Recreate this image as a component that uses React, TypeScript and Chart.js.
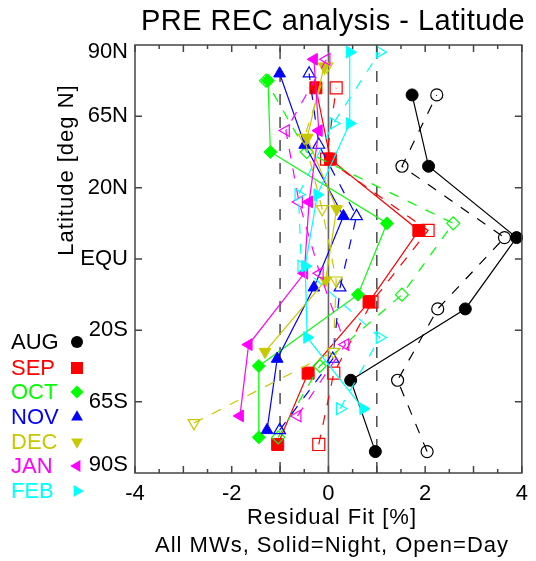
import React, { useEffect, useRef } from 'react';
import { Chart, registerables } from 'chart.js';

Chart.register(...registerables);

// ---------- data ----------
const MONTHS = ['AUG', 'SEP', 'OCT', 'NOV', 'DEC', 'JAN', 'FEB'];
const COLORS = ['#000000', '#ff0000', '#00ff00', '#0000ff', '#c8c800', '#ff00ff', '#00ffff'];

// latitude bins (south -> north), plotted positions on 0..6 axis
const LAT_BIN_POS = [0.3, 1.3, 2.3, 3.3, 4.3, 5.3];
const MONTH_SHIFT = [0, 0.1, 0.2, 0.3, 0.4, 0.5, 0.6];

const Y_TICK_LABELS = ['90S', '65S', '20S', 'EQU', '20N', '65N', '90N'];
const Y_TICK_POS = [0.11, 1, 2, 3, 4, 5, 5.9];
const Y_MAJOR = [1, 2, 3, 4, 5];

// residual fit [%] per latitude bin (90S -> 90N)
const AUG_NIGHT = [0.97, 0.46, 2.83, 3.89, 2.07, 1.73];
const AUG_DAY = [2.04, 1.43, 2.26, 3.64, 1.52, 2.24];
const SEP_NIGHT = [-1.05, -0.42, 0.84, 1.87, 0.04, -0.26];
const SEP_DAY = [-0.2, 0.11, 0.9, 2.06, -0.04, 0.16];
const OCT_NIGHT = [-1.44, -1.44, 0.61, 1.21, -1.2, -1.25];
const OCT_DAY = [-1.04, -0.18, 1.52, 2.58, -0.45, -1.29];
const NOV_NIGHT = [-1.27, -1.06, -0.3, 0.31, -0.49, -1.01];
const NOV_DAY = [-1.01, 0.09, 0.24, 0.58, -0.2, -0.4];
const DEC_NIGHT = [null, -1.31, -0.06, 0.17, -0.44, -0.09];
const DEC_DAY = [-2.78, 0.1, 0.16, -0.13, -0.5, -0.03];
const JAN_NIGHT = [-1.83, -1.65, -0.5, -0.4, -0.2, -0.3];
const JAN_DAY = [-0.64, 0.35, -0.18, -0.61, -0.88, -0.04];
const FEB_NIGHT = [0.72, -0.44, -0.48, -0.23, 0.44, 0.44];
const FEB_DAY = [0.24, 1.06, -0.56, -0.62, 0.1, 1.06];

const NIGHT = [AUG_NIGHT, SEP_NIGHT, OCT_NIGHT, NOV_NIGHT, DEC_NIGHT, JAN_NIGHT, FEB_NIGHT];
const DAY = [AUG_DAY, SEP_DAY, OCT_DAY, NOV_DAY, DEC_DAY, JAN_DAY, FEB_DAY];

// ---------- styles ----------
const POINT_STYLES = ['circle', 'rect', 'rectRot', 'triangle', 'triangle', 'triangle', 'triangle'];
const ROTATIONS = [0, 0, 0, 0, 180, -90, 90];
const RADII = [6, 8.5, 6.5, 6.8, 6.8, 6.8, 6.8];
const FONT = '"Liberation Sans", Arial, Helvetica, sans-serif';

function drawMarker(ctx: CanvasRenderingContext2D, m: number, x: number, y: number) {
  const style = POINT_STYLES[m];
  const r = RADII[m];
  ctx.beginPath();
  if (style === 'circle') {
    ctx.arc(x, y, r, 0, Math.PI * 2);
  } else if (style === 'rect') {
    const s = r * Math.SQRT1_2;
    ctx.rect(x - s, y - s, 2 * s, 2 * s);
  } else if (style === 'rectRot') {
    ctx.moveTo(x, y - r);
    ctx.lineTo(x + r, y);
    ctx.lineTo(x, y + r);
    ctx.lineTo(x - r, y);
    ctx.closePath();
  } else {
    let rad = (ROTATIONS[m] * Math.PI) / 180;
    ctx.moveTo(x + Math.sin(rad) * r, y - Math.cos(rad) * r);
    rad += (2 * Math.PI) / 3;
    ctx.lineTo(x + Math.sin(rad) * r, y - Math.cos(rad) * r);
    rad += (2 * Math.PI) / 3;
    ctx.lineTo(x + Math.sin(rad) * r, y - Math.cos(rad) * r);
    ctx.closePath();
  }
  ctx.fillStyle = COLORS[m];
  ctx.fill();
}

const decorPlugin = {
  id: 'decor',
  beforeDatasetsDraw(chart: any) {
    const { ctx, chartArea, scales } = chart;
    const { top, bottom } = chartArea;
    const xs = scales.x;
    ctx.save();
    ctx.strokeStyle = '#666666';
    ctx.lineWidth = 1.6;
    const x0 = xs.getPixelForValue(0);
    ctx.beginPath();
    ctx.moveTo(x0, top);
    ctx.lineTo(x0, bottom);
    ctx.stroke();
    ctx.strokeStyle = '#555555';
    ctx.setLineDash([11, 12]);
    for (const v of [-1, 1]) {
      const px = xs.getPixelForValue(v);
      ctx.beginPath();
      ctx.moveTo(px, top + 3);
      ctx.lineTo(px, bottom);
      ctx.stroke();
    }
    ctx.restore();
  },
  afterDatasetsDraw(chart: any) {
    const { ctx, chartArea, scales } = chart;
    const { left, right, top, bottom } = chartArea;
    ctx.save();
    ctx.strokeStyle = '#444444';
    ctx.lineWidth = 1.5;
    ctx.strokeRect(left, top, right - left, bottom - top);
    ctx.beginPath();
    for (let v = -4; v <= 4.001; v += 0.5) {
      const px = scales.x.getPixelForValue(v);
      const len = Math.abs(v - Math.round(v)) < 1e-6 ? 7 : 4;
      ctx.moveTo(px, bottom);
      ctx.lineTo(px, bottom - len);
      ctx.moveTo(px, top);
      ctx.lineTo(px, top + len);
    }
    for (const v of Y_MAJOR) {
      const py = scales.y.getPixelForValue(v);
      ctx.moveTo(left, py);
      ctx.lineTo(left + 7, py);
      ctx.moveTo(right, py);
      ctx.lineTo(right - 7, py);
    }
    ctx.stroke();
    ctx.restore();
  },
  afterDraw(chart: any) {
    const { ctx } = chart;
    ctx.save();
    ctx.fillStyle = '#000';
    ctx.textAlign = 'center';
    ctx.textBaseline = 'alphabetic';
    ctx.font = `29px ${FONT}`;
    (ctx as any).letterSpacing = '0.5px';
    ctx.fillText('PRE REC analysis - Latitude', 333, 30);
    ctx.font = `22px ${FONT}`;
    (ctx as any).letterSpacing = '1px';
    ctx.textBaseline = 'middle';
    ctx.fillText('Residual Fit [%]', 332, 518);
    ctx.fillText('All MWs, Solid=Night, Open=Day', 332, 546);
    ctx.save();
    ctx.translate(67, 170);
    ctx.rotate(-Math.PI / 2);
    ctx.fillText('Latitude [deg N]', 0, 0);
    ctx.restore();
    (ctx as any).letterSpacing = '0px';
    const legendY = [342, 368, 392, 417, 442, 466, 491];
    ctx.textAlign = 'left';
    MONTHS.forEach((name, m) => {
      ctx.fillStyle = COLORS[m];
      ctx.fillText(name, 11, legendY[m] + 1);
      drawMarker(ctx, m, 77, legendY[m]);
    });
    ctx.restore();
  },
};

export default function App() {
  const ref = useRef<HTMLCanvasElement>(null);
  useEffect(() => {
    document.body.style.margin = '0';
    const datasets: any[] = [];
    MONTHS.forEach((name, m) => {
      [NIGHT[m], DAY[m]].forEach((vals, k) => {
        const open = k === 1;
        datasets.push({
          label: `${name} ${open ? 'day' : 'night'}`,
          data: LAT_BIN_POS.map((p, i) => ({ x: vals[i], y: p + MONTH_SHIFT[m] })).filter((d) => d.x !== null),
          showLine: true,
          borderColor: COLORS[m],
          borderWidth: 1.2,
          borderDash: open ? [10, 10] : [],
          pointStyle: POINT_STYLES[m],
          pointRotation: ROTATIONS[m],
          pointRadius: RADII[m],
          pointBorderColor: COLORS[m],
          pointBorderWidth: open ? 1.2 : 1,
          pointBackgroundColor: open ? 'rgba(0,0,0,0)' : COLORS[m],
          clip: false,
        });
      });
    });
    datasets.forEach((d, i) => (d.order = datasets.length - i));

    const chart = new Chart(ref.current!, {
      type: 'scatter',
      data: { datasets },
      options: {
        animation: false,
        responsive: false,
        events: [],
        layout: { padding: { top: 45, right: 8, left: 0, bottom: 0 } },
        plugins: { legend: { display: false }, tooltip: { enabled: false }, title: { display: false } },
        scales: {
          x: {
            type: 'linear',
            min: -4,
            max: 4,
            grid: { display: false, drawTicks: false },
            border: { display: false },
            ticks: {
              stepSize: 2,
              padding: 8,
              color: '#000',
              maxRotation: 0,
              autoSkip: false,
              font: { family: FONT, size: 22 },
            },
            afterFit: (s: any) => {
              s.height = 88;
            },
          },
          y: {
            type: 'linear',
            min: 0,
            max: 6,
            grid: { display: false, drawTicks: false },
            border: { display: false },
            afterBuildTicks: (s: any) => {
              s.ticks = Y_TICK_POS.map((v) => ({ value: v }));
            },
            ticks: {
              padding: 7,
              color: '#000',
              autoSkip: false,
              font: { family: FONT, size: 22 },
              callback: (_v: any, i: number) => Y_TICK_LABELS[i],
            },
            afterFit: (s: any) => {
              s.width = 135;
            },
          },
        },
      },
      plugins: [decorPlugin],
    });
    return () => chart.destroy();
  }, []);
  return (
    <div style={{ width: 536, height: 561 }}>
      <canvas ref={ref} width={536} height={561} style={{ display: 'block' }} />
    </div>
  );
}
